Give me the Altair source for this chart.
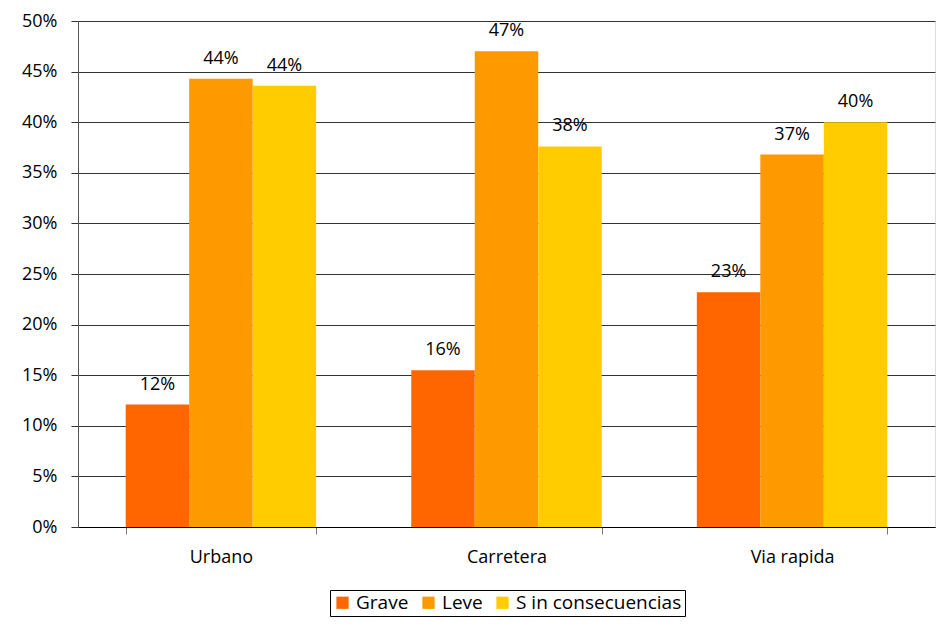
import altair as alt
import pandas as pd

categories = ["Urbano", "Carretera", "Via rapida"]
series = ["Grave", "Leve", "S in consecuencias"]
grave = [0.121, 0.155, 0.232]
leve = [0.443, 0.470, 0.368]
sin_consecuencias = [0.436, 0.376, 0.400]
colors = ["#FF6600", "#FF9900", "#FFCC00"]
y_ticks = [0, 0.05, 0.10, 0.15, 0.20, 0.25, 0.30, 0.35, 0.40, 0.45, 0.50]

rows = []
for vals, s in zip([grave, leve, sin_consecuencias], series):
    for c, v in zip(categories, vals):
        rows.append({"cat": c, "serie": s, "val": v})
df = pd.DataFrame(rows)

FONT = "Open Sans"

x = alt.X("cat:N", sort=categories, title=None,
          scale=alt.Scale(paddingInner=0.333, paddingOuter=0.167),
          axis=alt.Axis(labelAngle=0, tickBand="extent", labelFontSize=18, labelFont=FONT,
                        labelColor="#000", domainColor="#000", tickColor="#777",
                        tickSize=7, labelPadding=14, grid=False))
xo = alt.XOffset("serie:N", sort=series, scale=alt.Scale(paddingInner=0, paddingOuter=0))
y = alt.Y("val:Q", title=None,
          scale=alt.Scale(domain=[0, 0.5], nice=False),
          axis=alt.Axis(format=".0%", values=y_ticks, labelFontSize=18, labelFont=FONT,
                        labelColor="#000", domainColor="#555", tickColor="#333",
                        tickSize=7, labelPadding=14, gridColor="#333", gridOpacity=1,
                        gridWidth=1))

bars = alt.Chart(df).mark_bar().encode(
    x=x, xOffset=xo, y=y,
    color=alt.Color("serie:N", sort=series,
                    scale=alt.Scale(domain=series, range=colors),
                    legend=alt.Legend(title=None, orient="none", direction="horizontal",
                                      legendX=252, legendY=569,
                                      symbolType="square", symbolSize=150,
                                      symbolStrokeWidth=0,
                                      labelFontSize=19, labelFont=FONT, labelColor="#000",
                                      labelLimit=400,
                                      columnPadding=10, labelOffset=4,
                                      strokeColor="#000", fillColor="#fff", padding=3)),
)

labels = alt.Chart(df).mark_text(baseline="alphabetic", dy=-15, fontSize=18,
                                 font=FONT, color="#000").encode(
    x=alt.X("cat:N", sort=categories),
    xOffset=alt.XOffset("serie:N", sort=series),
    y=alt.Y("val:Q"),
    text=alt.Text("val:Q", format=".0%"),
)

chart = alt.layer(bars, labels).properties(
    width=857, height=506,
    autosize=alt.AutoSizeParams(type="none"),
    padding={"left": 70, "top": 13, "right": 1, "bottom": 91},
).configure_view(stroke=None).configure(background="#fff")

chart.save("out.html", embed_options={"renderer": "svg", "actions": False})
